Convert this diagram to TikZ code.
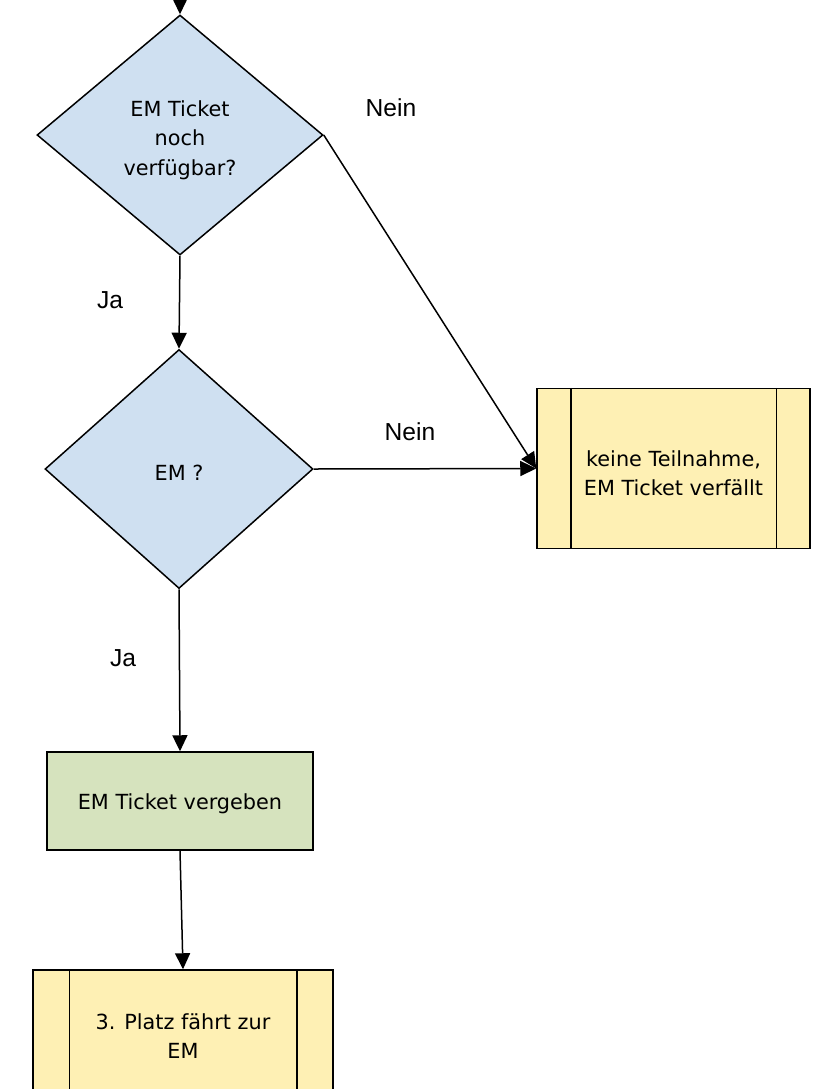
\documentclass[tikz,border=0pt]{standalone}
\usepackage{fontspec}
\setmainfont{DejaVu Sans}
\newfontfamily\labelfont{Liberation Sans}
\usetikzlibrary{shapes.geometric,arrows.meta}
\definecolor{decfill}{RGB}{207,224,241}
\definecolor{subfill}{RGB}{254,240,180}
\definecolor{procfill}{RGB}{214,227,190}
\tikzset{
  decision/.style={diamond, draw, fill=decfill, line width=0.75pt, align=center, inner sep=0pt,
    font=\fontsize{10.4}{14.75}\selectfont},
  subproc/.style={rectangle, draw, fill=subfill, line width=0.75pt, align=center,
    text height=27pt, font=\fontsize{10.4}{14.2}\selectfont},
  process/.style={rectangle, draw, fill=procfill, line width=0.75pt, align=center,
    text height=11pt, font=\fontsize{10.4}{14.2}\selectfont},
  edgelabel/.style={font=\labelfont\fontsize{12.3}{14}\selectfont},
  flow/.style={->, line width=0.75pt},
  >={Triangle[length=8pt,width=7.5pt]}
}
\begin{document}
\begin{tikzpicture}[x=0.5pt,y=-0.5pt]
\useasboundingbox (0,0) rectangle (816,1089);
% decisions, boxes, then the flow between them
\coordinate (start) at (180,-40);
\node[decision, minimum width=143pt, minimum height=120pt, text height=42.5pt] (ticket) at (180,135) {EM Ticket\\noch\\verfügbar?};
\node[decision, minimum width=134pt, minimum height=119.5pt, text height=11pt] (em) at (179,469) {EM ?};
\node[subproc, minimum width=136.5pt, minimum height=80pt] (keine) at (673.5,468.5) {keine Teilnahme,\\EM Ticket verfällt};
\node[process, minimum width=133pt, minimum height=49pt] (vergeben) at (180,801) {EM Ticket vergeben};
\node[subproc, minimum width=150pt, minimum height=61pt] (platz) at (183,1031) {3. Platz fährt zur\\EM};

\draw[line width=0.75pt] ([xshift=17.25pt]keine.north west) -- ([xshift=17.25pt]keine.south west)
  ([xshift=-17.25pt]keine.north east) -- ([xshift=-17.25pt]keine.south east);
\draw[line width=0.75pt] ([xshift=18.5pt]platz.north west) -- ([xshift=18.5pt]platz.south west)
  ([xshift=-18.5pt]platz.north east) -- ([xshift=-18.5pt]platz.south east);

\draw[flow] (start) -- (ticket.north);
\draw[flow] (ticket.east) -- (keine.west);
\draw[flow] (ticket.south) -- (em.north);
\draw[flow] (em.east) -- (keine.west);
\draw[flow] (em.south) -- (vergeben.north);
\draw[flow] (vergeben.south) -- (platz.north);

\node[edgelabel] (nein1) at (391,108) {Nein};
\node[edgelabel] (ja1) at (110,300) {Ja};
\node[edgelabel] (nein2) at (410,432) {Nein};
\node[edgelabel] (ja2) at (123,658) {Ja};
\end{tikzpicture}
\end{document}
